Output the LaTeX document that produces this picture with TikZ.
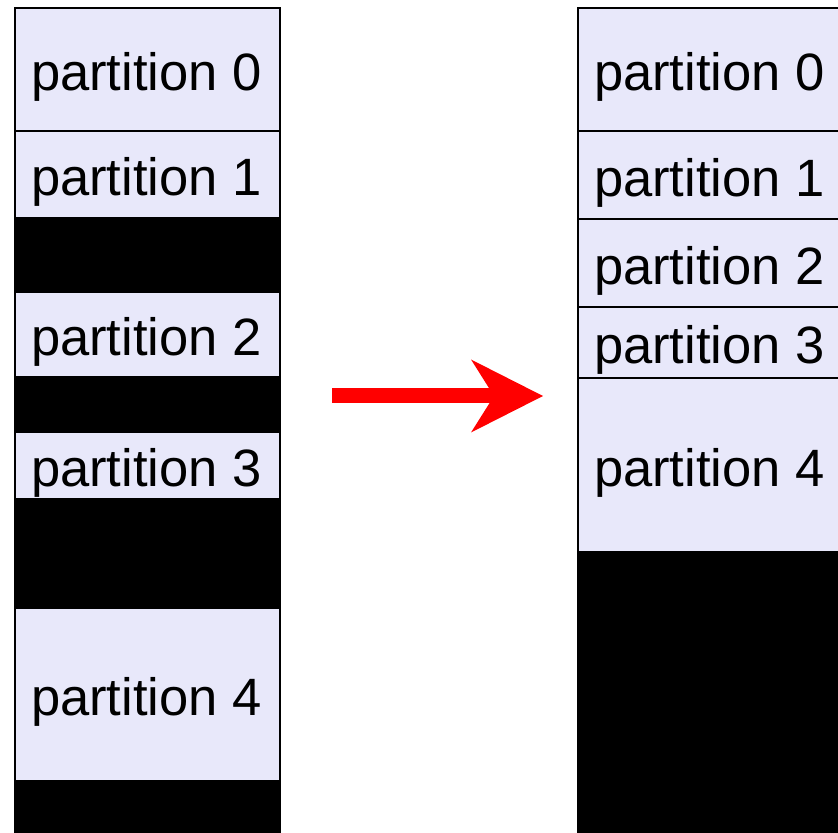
\documentclass[tikz,border=0pt]{standalone}
\usepackage{fontspec}
\setmainfont{Liberation Sans}
\usetikzlibrary{positioning,calc,arrows.meta,backgrounds}
\definecolor{PartFill}{RGB}{232,232,250}
\definecolor{MoveRed}{RGB}{255,0,0}
\tikzset{
    partnode/.style={rectangle, draw=black, line width=0.05cm, fill=PartFill, outer sep=0pt,
        minimum width=5.30cm, text width=4.66cm, inner xsep=0.32cm, align=flush left,
        text height=24pt, text depth=0pt, font=\fontsize{29.9}{34}\selectfont},
    memframe/.style={draw=black, fill=black, line width=0.05cm}
}

\begin{document}
\begin{tikzpicture}[node distance=0cm]
    % khung ảnh
    \useasboundingbox (0,0) rectangle (16.76,-16.66);
    \clip (0,0) rectangle (16.76,-16.66);
    \coordinate (bottom) at (0,-17.2);

    % 1. bộ nhớ trước khi dồn
    \node[partnode, minimum height=2.46cm, anchor=north west] (l0) at (0.30,-0.16) {partition~0};
    \node[partnode, minimum height=1.74cm, below=0cm of l0] (l1) {partition~1};
    \node[partnode, minimum height=1.70cm, below=1.48cm of l1] (l2) {partition~2};
    \node[partnode, minimum height=1.34cm, below=1.10cm of l2] (l3) {partition~3};
    \node[partnode, minimum height=3.46cm, below=2.18cm of l3] (l4) {partition~4};

    % 2. bộ nhớ sau khi dồn
    \node[partnode, minimum height=2.46cm, right=5.96cm of l0] (r0) {partition~0};
    \node[partnode, minimum height=1.76cm, below=0cm of r0] (r1) {partition~1};
    \node[partnode, minimum height=1.76cm, below=0cm of r1] (r2) {partition~2};
    \node[partnode, minimum height=1.42cm, below=0cm of r2] (r3) {partition~3};
    \node[partnode, minimum height=3.48cm, below=0cm of r3] (r4) {partition~4};

    % vùng trống màu đen
    \begin{scope}[on background layer]
        \draw[memframe] (l0.north west) rectangle (l4.east |- bottom);
        \draw[memframe] (r0.north west) rectangle (r4.east |- bottom);
    \end{scope}

    % mũi tên đỏ
    \coordinate (move from) at (6.64,-7.92);
    \coordinate (move to) at (10.86,-7.92);
    \draw[MoveRed, line width=0.30cm,
        -{Stealth[length=1.44cm, width=1.46cm, inset=0.46cm, line width=0pt]}]
        (move from) -- (move to);
\end{tikzpicture}
\end{document}
